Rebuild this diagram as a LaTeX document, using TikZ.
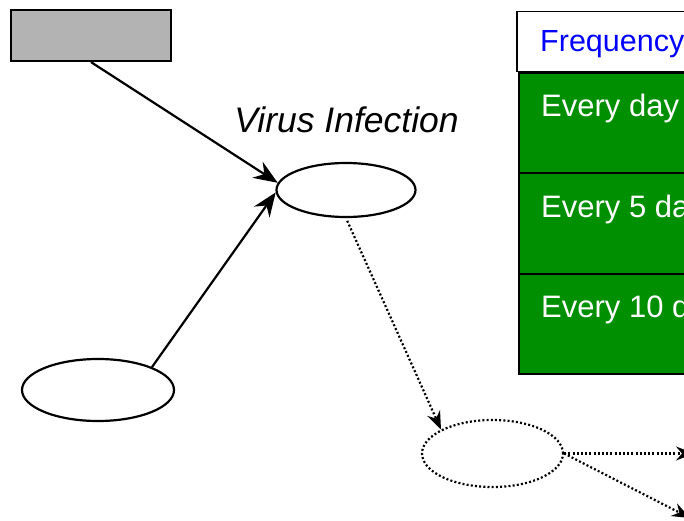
\documentclass[tikz,border=0pt]{standalone}
\usepackage{fontspec}
\setmainfont{Liberation Sans}
\usetikzlibrary{arrows.meta,shapes.geometric}
\definecolor{boxgray}{RGB}{179,179,179}
\definecolor{rowgreen}{RGB}{0,143,0}
\tikzset{
  solidarrow/.style={line width=2.2pt,-{Stealth[length=24pt,width=19pt,inset=8pt]}},
  dotarrow/.style={line width=2.2pt,dash pattern=on 2pt off 2.2pt,-{Stealth[length=18pt,width=14pt,inset=6pt]}},
  oval/.style={ellipse,draw,line width=2.2pt,inner sep=0pt},
  rowbox/.style={rectangle,draw,line width=2pt,fill=rowgreen,anchor=north west,minimum width=200pt,minimum height=100pt,inner sep=0pt},
  rowtext/.style={anchor=base west,text=white,inner sep=0pt,font=\fontsize{31}{36}\selectfont},
}
\begin{document}
\begin{tikzpicture}[x=1pt,y=-1pt]
\useasboundingbox (0,0) rectangle (684,521);
\clip (0,0) rectangle (684,521);
% gray box
\node[rectangle,draw,line width=2.2pt,fill=boxgray,minimum width=160pt,minimum height=51pt,inner sep=0pt] (gbox) at (91,35.5) {};
% ellipses
\node[oval,minimum width=139pt,minimum height=54pt] (e1) at (346,190) {};
\node[oval,minimum width=152pt,minimum height=62pt] (e2) at (98,390) {};
\node[ellipse,draw,line width=2.2pt,dash pattern=on 2pt off 2.2pt,inner sep=0pt,minimum width=141pt,minimum height=67pt] (e3) at (492.5,453.5) {};
% label
\node[anchor=base,inner sep=0pt,font=\fontsize{35.5}{42}\selectfont\itshape] (lbl) at (346.5,133) {Virus Infection};
% table
\node[rectangle,draw,line width=1.5pt,fill=white,anchor=north west,minimum width=200pt,minimum height=60pt,inner sep=0pt] (hdr) at (516,11) {};
\node[anchor=base west,text=blue,inner sep=0pt,font=\fontsize{30.5}{36}\selectfont] (freq) at (540,52) {Frequency};
\node[rowbox] (r1) at (518,72.5) {};
\node[rowbox] (r2) at (518,172.5) {};
\node[rowbox] (r3) at (518,272.5) {};
\node[rowtext] (t1) at (541,117) {Every day};
\node[rowtext] (t2) at (541,217) {Every 5 days};
\node[rowtext] (t3) at (541,317) {Every 10 days};
% free ends
\coordinate (o1) at (694,453.5);
\coordinate (o2) at (690,518);
% connectors
\draw[solidarrow] (gbox.south) -- (e1.174);
\draw[solidarrow] (e2.23) -- (e1.182);
\draw[dotarrow,shorten <=3pt] (e1.south) -- (e3.155);
\draw[dotarrow] (e3.east) -- (o1);
\draw[dotarrow] (e3.east) -- (o2);
\end{tikzpicture}
\end{document}
